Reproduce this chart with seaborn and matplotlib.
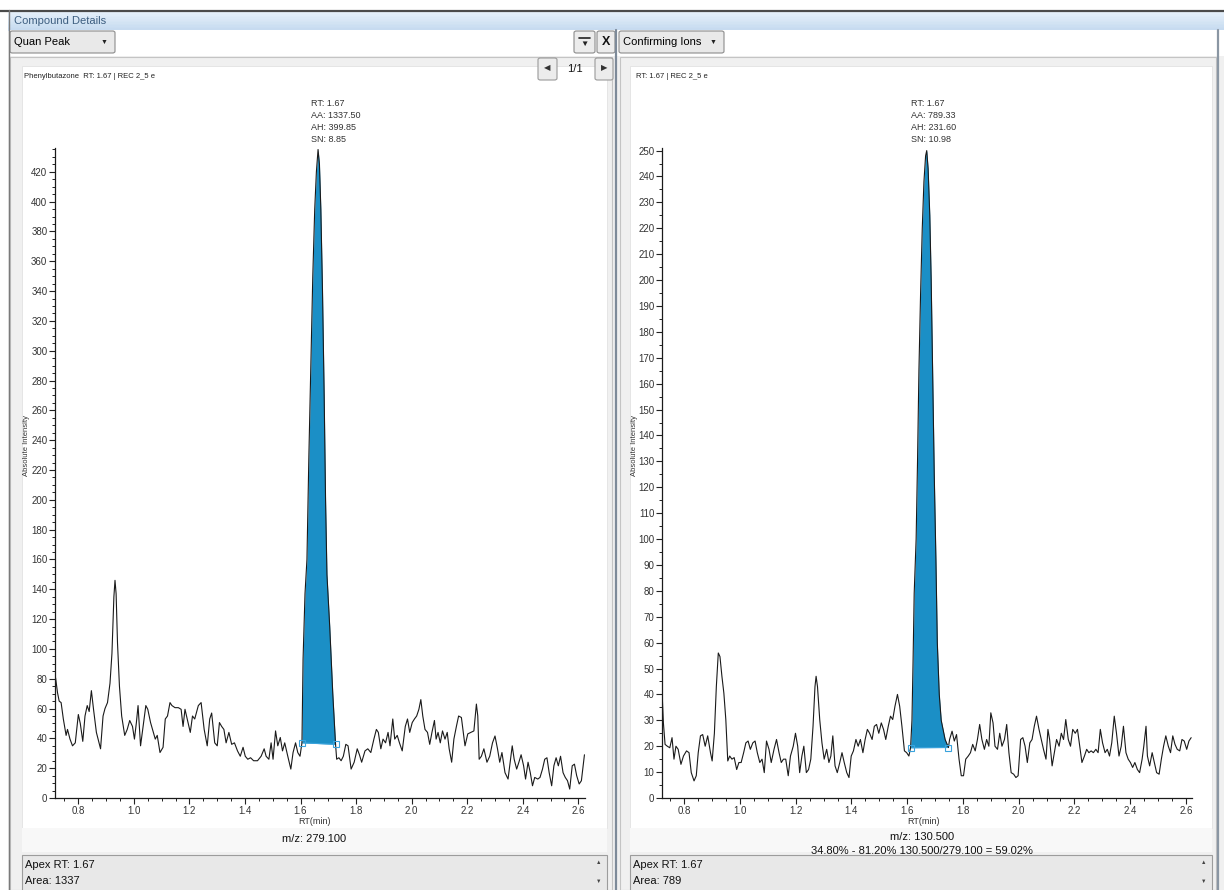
import numpy as np
import matplotlib
matplotlib.use("Agg")
import matplotlib.pyplot as plt
from matplotlib.patches import Rectangle, FancyBboxPatch
from matplotlib.lines import Line2D
from matplotlib.ticker import MultipleLocator, FormatStrFormatter
import seaborn as sns

# ---------------- data ----------------
quan_rt = [0.718, 0.725, 0.731, 0.738, 0.746, 0.756, 0.761, 0.770, 0.779, 0.789,
           0.800, 0.807, 0.816, 0.824, 0.832, 0.839, 0.847, 0.855, 0.865, 0.880,
           0.889, 0.896, 0.905, 0.914, 0.921, 0.928, 0.932, 0.936, 0.941, 0.948,
           0.956, 0.967, 0.976, 0.985, 0.995, 1.002, 1.009, 1.015, 1.024, 1.033,
           1.043, 1.050, 1.060, 1.070, 1.077, 1.084, 1.094, 1.105, 1.113, 1.121,
           1.130, 1.137, 1.148, 1.160, 1.170, 1.177, 1.184, 1.192, 1.203, 1.211,
           1.219, 1.232, 1.242, 1.253, 1.264, 1.273, 1.280, 1.291, 1.300, 1.308,
           1.316, 1.324, 1.332, 1.342, 1.352, 1.362, 1.373, 1.383, 1.393, 1.401,
           1.410, 1.420, 1.431, 1.445, 1.458, 1.469, 1.476, 1.486, 1.494, 1.501,
           1.510, 1.518, 1.527, 1.535, 1.543, 1.554, 1.565, 1.573, 1.582, 1.590,
           1.598, 1.605, 1.609, 1.616, 1.623, 1.630, 1.637, 1.644, 1.651, 1.657,
           1.663, 1.668, 1.673, 1.679, 1.685, 1.690, 1.695, 1.705, 1.716, 1.726,
           1.730, 1.738, 1.746, 1.754, 1.763, 1.771, 1.782, 1.793, 1.804, 1.812,
           1.820, 1.832, 1.842, 1.853, 1.864, 1.873, 1.880, 1.889, 1.897, 1.906,
           1.915, 1.922, 1.932, 1.939, 1.948, 1.956, 1.966, 1.977, 1.985, 1.993,
           2.002, 2.010, 2.018, 2.026, 2.033, 2.040, 2.048, 2.057, 2.065, 2.073,
           2.082, 2.088, 2.095, 2.103, 2.111, 2.120, 2.128, 2.135, 2.144, 2.152,
           2.161, 2.169, 2.179, 2.186, 2.192, 2.202, 2.213, 2.224, 2.233, 2.238,
           2.243, 2.251, 2.260, 2.271, 2.281, 2.291, 2.300, 2.309, 2.317, 2.325,
           2.336, 2.347, 2.356, 2.362, 2.369, 2.378, 2.386, 2.394, 2.403, 2.410,
           2.419, 2.427, 2.435, 2.443, 2.454, 2.462, 2.471, 2.479, 2.487, 2.495,
           2.504, 2.512, 2.520, 2.528, 2.536, 2.545, 2.553, 2.561, 2.569, 2.578,
           2.586, 2.594, 2.603, 2.611, 2.622]
quan_int = [80.7, 70.7, 65, 64, 53, 42, 46, 39.5, 35, 37,
            56, 50, 38, 55, 62, 58, 72, 59, 44, 33,
            55, 60, 64, 77, 97, 135, 146, 137, 104, 75,
            55, 42, 46, 52, 48, 39.5, 50.6, 62, 35, 48,
            62, 59.5, 50.6, 44, 39.5, 42, 30.5, 34, 53, 55,
            64, 62, 60.6, 60.6, 59.5, 48, 59.5, 53, 44, 55,
            53, 62, 64, 46, 35, 53, 57, 37, 35, 50.6,
            48, 46, 37, 44, 36, 37, 31.6, 28, 34, 28,
            26, 27, 25, 25, 28, 33, 28, 26, 37, 26,
            45, 35, 40.6, 31.6, 37, 28, 19.4, 30.5, 37, 30.5,
            28, 37, 93, 137, 160, 230, 290, 350, 395, 420,
            435, 425, 395, 340, 270, 200, 150, 115, 70, 36,
            26, 27, 25, 28, 36, 35, 19.4, 24, 33, 29,
            24, 31.6, 33, 30.5, 39.5, 46, 44, 33, 39.5, 37,
            44, 35, 53, 39.5, 42, 37, 31.6, 48, 53, 44,
            50.6, 53, 55, 59.5, 66, 55, 46, 44, 36, 44,
            52, 39.5, 44, 37, 45, 39.5, 44, 33, 24, 39.5,
            48, 55, 54, 44, 35, 43, 44, 45, 63, 55,
            26, 28, 33, 24, 28, 37, 41.6, 33, 24, 30.5,
            17, 12.7, 26, 35, 26, 19.4, 24, 29, 21.6, 12.7,
            24, 17, 8.2, 13.8, 12.7, 13.8, 19.4, 26, 27, 17,
            8.2, 21.6, 27, 21.6, 28, 17, 13.8, 11.6, 6, 21.6,
            22.7, 15, 9.4, 11.6, 29]

conf_rt = [0.721, 0.725, 0.731, 0.739, 0.748, 0.756, 0.763, 0.770, 0.778, 0.788,
           0.797, 0.808, 0.817, 0.825, 0.835, 0.843, 0.850, 0.858, 0.866, 0.875,
           0.884, 0.894, 0.900, 0.908, 0.915, 0.922, 0.928, 0.935, 0.942, 0.949,
           0.956, 0.963, 0.971, 0.979, 0.988, 0.996, 1.004, 1.013, 1.021, 1.029,
           1.037, 1.046, 1.054, 1.062, 1.071, 1.079, 1.087, 1.095, 1.104, 1.112,
           1.122, 1.131, 1.140, 1.148, 1.156, 1.164, 1.173, 1.181, 1.191, 1.199,
           1.207, 1.214, 1.222, 1.229, 1.238, 1.246, 1.254, 1.262, 1.269, 1.273,
           1.278, 1.286, 1.294, 1.302, 1.311, 1.319, 1.326, 1.333, 1.341, 1.349,
           1.358, 1.366, 1.374, 1.383, 1.391, 1.399, 1.407, 1.416, 1.424, 1.432,
           1.441, 1.449, 1.457, 1.465, 1.474, 1.482, 1.490, 1.498, 1.507, 1.515,
           1.523, 1.532, 1.540, 1.548, 1.556, 1.565, 1.573, 1.581, 1.590, 1.598,
           1.606, 1.612, 1.617, 1.621, 1.625, 1.632, 1.637, 1.642, 1.648, 1.654,
           1.660, 1.666, 1.670, 1.675, 1.681, 1.686, 1.692, 1.697, 1.703, 1.708,
           1.715, 1.722, 1.736, 1.748, 1.752, 1.761, 1.769, 1.777, 1.786, 1.794,
           1.802, 1.810, 1.819, 1.827, 1.835, 1.844, 1.852, 1.860, 1.868, 1.877,
           1.885, 1.893, 1.900, 1.908, 1.915, 1.924, 1.932, 1.940, 1.949, 1.957,
           1.965, 1.973, 1.982, 1.990, 1.998, 2.007, 2.015, 2.023, 2.031, 2.040,
           2.048, 2.056, 2.064, 2.073, 2.081, 2.089, 2.098, 2.105, 2.111, 2.120,
           2.128, 2.136, 2.145, 2.153, 2.161, 2.169, 2.178, 2.186, 2.194, 2.203,
           2.211, 2.219, 2.227, 2.236, 2.244, 2.252, 2.260, 2.268, 2.277, 2.285,
           2.293, 2.301, 2.310, 2.318, 2.326, 2.334, 2.343, 2.351, 2.360, 2.368,
           2.376, 2.385, 2.393, 2.401, 2.409, 2.417, 2.426, 2.434, 2.443, 2.449,
           2.457, 2.462, 2.470, 2.479, 2.487, 2.495, 2.504, 2.512, 2.520, 2.528,
           2.537, 2.545, 2.553, 2.561, 2.569, 2.578, 2.586, 2.594, 2.603, 2.611,
           2.619]
conf_int = [39, 29, 20.7, 20, 19.4, 23.3, 15, 20, 18.8, 13,
            16.2, 18.2, 17.5, 9.8, 6.6, 8.6, 17.5, 24, 24.5, 20,
            24, 17.5, 14.3, 25, 43, 56, 54.6, 47, 40.5, 30.3,
            14.3, 16.2, 15, 15.6, 11, 13.7, 13.7, 17.5, 21.3, 22,
            18.8, 21.3, 22, 17.5, 13.7, 15, 9.8, 22, 18.8, 13.7,
            18.8, 22.6, 17.5, 13.7, 15, 15, 8.6, 16.2, 20, 25,
            20, 9.8, 16.2, 20, 9.8, 11, 15, 27.7, 43, 47,
            43, 30.3, 21.3, 15, 18.8, 13.7, 16.2, 24, 12.4, 9.8,
            13.7, 17.5, 13.7, 9.8, 7.9, 16.2, 18.2, 22.6, 20, 22.6,
            17.5, 22.6, 26.5, 25, 22.6, 27.7, 28.4, 25, 29, 26.5,
            22.6, 27.7, 31.6, 30.3, 35.4, 40, 35.4, 27.7, 18.2, 17.5,
            16.2, 19.4, 30, 53, 79, 100, 130, 165, 195, 220,
            238, 248, 250, 243, 225, 200, 160, 125, 92, 60,
            40, 30, 22.6, 19.5, 22.6, 25.8, 22, 24.5, 15, 8.6,
            8.6, 15, 16.2, 17.5, 20.7, 18.2, 22.6, 28.4, 22.6, 18.8,
            22.6, 20, 32.9, 29, 20, 18.8, 25, 20, 22.6, 28.4,
            17.5, 9.8, 9.2, 7.9, 8.6, 22.6, 23.3, 20, 13.7, 21.3,
            22.6, 27.7, 31.6, 26.5, 22.6, 18.8, 15, 26.5, 22.6, 12.4,
            17.5, 22.6, 20, 25, 22.6, 30.3, 22.6, 20, 26.5, 25,
            26.5, 20, 13.7, 16.2, 18.8, 17.5, 18.2, 17.5, 18.8, 17.5,
            26.5, 21.3, 17.5, 18.8, 16.2, 21.3, 31.6, 25, 16.2, 20,
            27.7, 17.5, 15, 13.7, 11.8, 13.7, 11, 9.8, 15, 20,
            27.7, 16.2, 12.4, 17.5, 13.7, 9.8, 9.2, 15, 20, 24,
            20, 17.5, 24, 20.7, 18.8, 18.2, 22.6, 22, 18.8, 22,
            23.3]

# integration boundaries (RT) for each trace
quan_peak = (1.605, 1.726)
conf_peak = (1.612, 1.748)

quan_labels = ["RT: 1.67", "AA: 1337.50", "AH: 399.85", "SN: 8.85"]
conf_labels = ["RT: 1.67", "AA: 789.33", "AH: 231.60", "SN: 10.98"]

W, H = 1224, 890

sns.set_style("white")
plt.rcParams["font.family"] = ["Liberation Sans", "DejaVu Sans"]

fig = plt.figure(figsize=(W / 100, H / 100), dpi=100)
fig.patch.set_facecolor("white")


def rect(x0, y0, x1, y1, fc, ec="none", lw=0.0, z=0, rounded=False):
    if rounded:
        p = FancyBboxPatch((x0 / W, 1 - y1 / H), (x1 - x0) / W, (y1 - y0) / H,
                           boxstyle="round,pad=0,rounding_size=0.002",
                           transform=fig.transFigure, fc=fc, ec=ec, lw=lw, zorder=z)
    else:
        p = Rectangle((x0 / W, 1 - y1 / H), (x1 - x0) / W, (y1 - y0) / H,
                      transform=fig.transFigure, fc=fc, ec=ec, lw=lw, zorder=z)
    fig.add_artist(p)


def line(x0, y0, x1, y1, color, lw=1.0, z=1):
    fig.add_artist(Line2D([x0 / W, x1 / W], [1 - y0 / H, 1 - y1 / H],
                          transform=fig.transFigure, color=color, lw=lw, zorder=z))


def ftext(x, y, s, **kw):
    fig.text(x / W, 1 - y / H, s, **kw)


UI_FONT = ["Liberation Sans Narrow", "Liberation Sans", "DejaVu Sans"]

# ---------------- window chrome ----------------
rect(8, 10, 1224, 890, "#f0f0f0", z=0)
# title bar gradient
top_c = np.array([0.90, 0.94, 0.98])
bot_c = np.array([0.78, 0.86, 0.94])
n = 12
for i in range(n):
    c = top_c + (bot_c - top_c) * i / (n - 1)
    rect(8, 11 + i * 19 / n, 1224, 11 + (i + 1) * 19 / n + 0.5, tuple(c), z=0.1)
line(0, 10.5, 1224, 10.5, "#4a4a4a", lw=1.6, z=2)
line(8.5, 10, 8.5, 890, "#7a7a7a", lw=1.0, z=2)
ftext(14, 21, "Compound Details", fontsize=8, color="#3d5e80", va="center",
      family=UI_FONT)
# toolbar row
rect(9, 30, 1224, 56, "white", z=0.2)

# dropdowns
for x0, x1, label in [(10, 115, "Quan Peak"), (619, 724, "Confirming Ions")]:
    rect(x0, 31, x1, 53, "#e9e9e9", ec="#8c8c8c", lw=0.8, z=1, rounded=True)
    ftext(x0 + 4, 42, label, fontsize=8, color="black", va="center", family=UI_FONT)
    ftext(x1 - 11, 42, "▼", fontsize=5, color="#222", va="center", ha="center")

# small buttons
rect(574, 31, 595, 53, "#ececec", ec="#8c8c8c", lw=0.8, z=1, rounded=True)
line(579, 37.5, 590, 37.5, "#222", lw=1.2, z=2)
ftext(584.5, 44, "▼", fontsize=6, color="#222", va="center", ha="center", zorder=2)
rect(597, 31, 615, 53, "#ececec", ec="#8c8c8c", lw=0.8, z=1, rounded=True)
ftext(606, 42, "X", fontsize=9, color="#111", va="center", ha="center",
      fontweight="bold", zorder=2)

# panels
rect(10, 57, 612, 890, "#f0f0f0", ec="#c4c4c4", lw=0.8, z=0.3)
rect(620, 57, 1216, 890, "#f0f0f0", ec="#c4c4c4", lw=0.8, z=0.3)
line(616, 30, 616, 890, "#7d8a99", lw=1.6, z=2)
line(1218, 30, 1218, 890, "#8a96a3", lw=1.6, z=2)

# chart white areas
rect(22, 66, 607, 828, "white", ec="#e2e2e2", lw=0.6, z=0.4)
rect(630, 66, 1212, 828, "white", ec="#e2e2e2", lw=0.6, z=0.4)
rect(22, 828, 607, 852, "#f8f8f8", z=0.4)
rect(630, 828, 1212, 852, "#f8f8f8", z=0.4)

# navigation
rect(538, 58, 557, 80, "#ececec", ec="#9a9a9a", lw=0.8, z=1, rounded=True)
ftext(547.5, 69, "◀", fontsize=6, color="#333", va="center", ha="center", zorder=2)
ftext(575, 69, "1/1", fontsize=8, color="#111", va="center", ha="center",
      family=UI_FONT, zorder=2)
rect(595, 58, 613, 80, "#ececec", ec="#9a9a9a", lw=0.8, z=1, rounded=True)
ftext(604, 69, "▶", fontsize=6, color="#333", va="center", ha="center", zorder=2)

# headers
ftext(24, 77, "Phenylbutazone  RT: 1.67 | REC 2_5 e", fontsize=5.5, color="#222",
      va="center", zorder=2)
ftext(636, 77, "RT: 1.67 | REC 2_5 e", fontsize=5.5, color="#222", va="center",
      zorder=2)

# bottom info boxes
for x0, x1, area in [(22, 607, "Area: 1337"), (630, 1212, "Area: 789")]:
    rect(x0, 855, x1, 892, "#e8e8e8", ec="#9c9c9c", lw=0.8, z=1)
    ftext(x0 + 3, 865, "Apex RT: 1.67", fontsize=8, color="#111", va="center",
          family=UI_FONT, zorder=2)
    ftext(x0 + 3, 881, area, fontsize=8, color="#111", va="center",
          family=UI_FONT, zorder=2)
    ftext(x1 - 8, 863, "▲", fontsize=4, color="#444", va="center", ha="center",
          zorder=2)
    ftext(x1 - 8, 881, "▼", fontsize=4, color="#444", va="center", ha="center",
          zorder=2)

# m/z labels
ftext(314, 839, "m/z: 279.100", fontsize=8, color="#111", va="center", ha="center",
      family=UI_FONT, zorder=2)
ftext(922, 837, "m/z: 130.500", fontsize=8, color="#111", va="center", ha="center",
      family=UI_FONT, zorder=2)
ftext(922, 851, "34.80% - 81.20% 130.500/279.100 = 59.02%", fontsize=8,
      color="#111", va="center", ha="center", family=UI_FONT, zorder=3)


# ---------------- chromatograms ----------------
def chrom(ax, rt, inten, peak, ymax, ymaj, xlim):
    rt = np.asarray(rt, float)
    inten = np.asarray(inten, float)
    ax.set_facecolor("none")
    m = (rt >= peak[0] - 1e-9) & (rt <= peak[1] + 1e-9)
    b0 = float(np.interp(peak[0], rt, inten))
    b1 = float(np.interp(peak[1], rt, inten))
    base = b0 + (b1 - b0) * (rt[m] - peak[0]) / (peak[1] - peak[0])
    ax.fill_between(rt[m], base, inten[m], color="#1b8fc6", lw=0, zorder=2)
    ax.plot([peak[0], peak[1]], [b0, b1], color="#3aa3dc", lw=0.8, zorder=2)
    sns.lineplot(x=rt, y=inten, ax=ax, color="#1a1a1a", lw=0.8,
                 estimator=None, sort=False, zorder=3)
    ax.plot([peak[0], peak[1]], [b0, b1], "s", mfc="none", mec="#3aa3dc",
            ms=5, mew=0.8, zorder=4)
    ax.set_xlim(*xlim)
    ax.set_ylim(0, ymax)
    ax.xaxis.set_major_locator(MultipleLocator(0.2))
    ax.xaxis.set_minor_locator(MultipleLocator(0.05))
    ax.xaxis.set_major_formatter(FormatStrFormatter("%.1f"))
    ax.yaxis.set_major_locator(MultipleLocator(ymaj))
    ax.yaxis.set_minor_locator(MultipleLocator(5))
    ax.tick_params(which="major", direction="out", length=4, width=0.8,
                   labelsize=7, colors="#222", labelcolor="#333", pad=1.5)
    ax.tick_params(which="minor", direction="out", length=2.2, width=0.7,
                   colors="#222")
    ax.tick_params(axis="x", which="both", bottom=True)
    ax.tick_params(axis="y", which="both", left=True)
    for s in ["top", "right"]:
        ax.spines[s].set_visible(False)
    for s in ["left", "bottom"]:
        ax.spines[s].set_color("#1a1a1a")
        ax.spines[s].set_linewidth(0.9)
    ax.set_xlabel("")
    ax.set_ylabel("")


def ax_rect(x0, x1, ytop, ybot):
    return [x0 / W, 1 - ybot / H, (x1 - x0) / W, (ybot - ytop) / H]


ax1 = fig.add_axes(ax_rect(55, 585, 148, 798))
ax1.set_zorder(5)
chrom(ax1, quan_rt, quan_int, quan_peak, 436, 20, (0.716, 2.624))
ax2 = fig.add_axes(ax_rect(662, 1192, 148, 798))
ax2.set_zorder(5)
chrom(ax2, conf_rt, conf_int, conf_peak, 251, 10, (0.72, 2.622))

# peak annotation blocks
for xl, labels in [(311, quan_labels), (911, conf_labels)]:
    for i, s in enumerate(labels):
        ftext(xl, 104 + i * 11.7, s, fontsize=6.5, color="#333", va="center",
              ha="left", zorder=6)

for xc in (315, 923):
    ftext(xc, 822, "RT(min)", fontsize=6.5, color="#333", va="center", ha="center",
          zorder=6)
for xc in (27, 634):
    ftext(xc, 445, "Absolute Intensity", fontsize=5.5, color="#333", va="center",
          ha="center", rotation=90, zorder=6)

fig.savefig("out.png", dpi=100)
